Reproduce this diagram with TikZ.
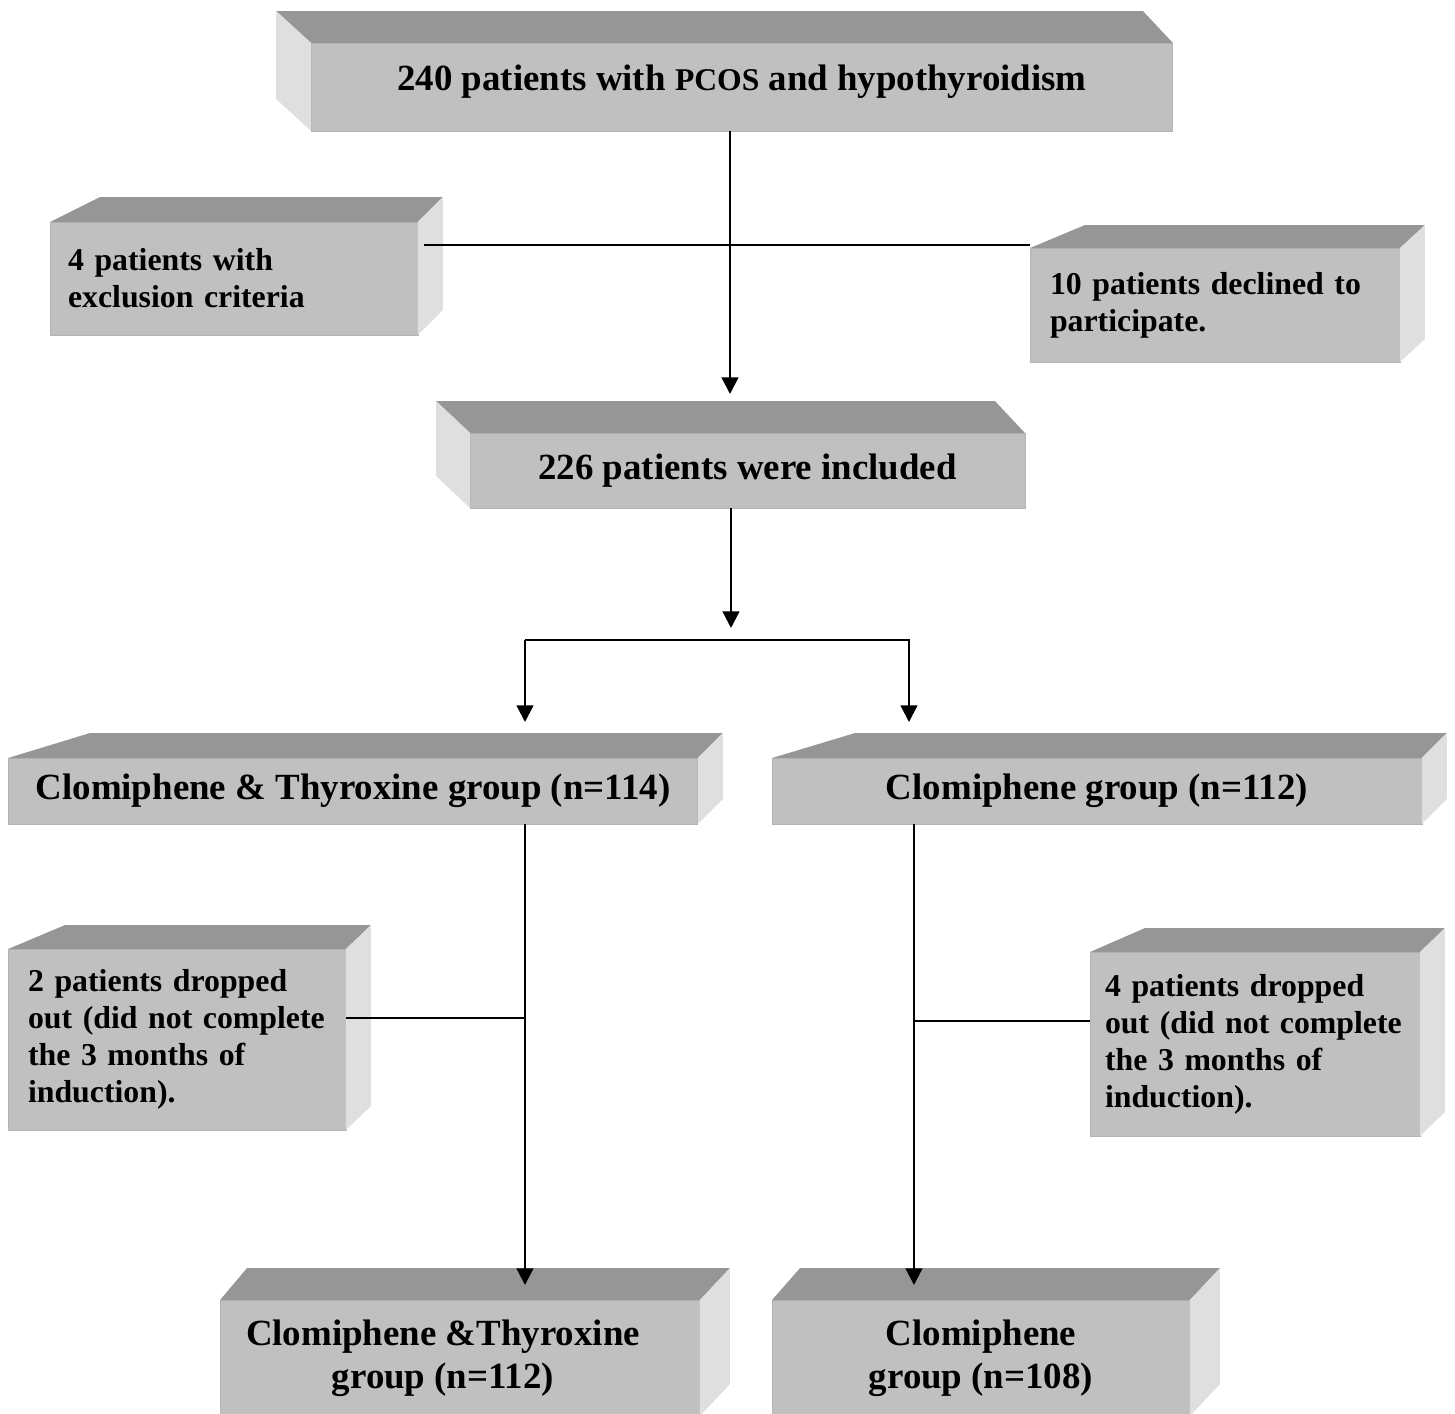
\documentclass[tikz,border=0pt]{standalone}
\usepackage{fontspec}
\setmainfont{Liberation Serif}
\usetikzlibrary{arrows.meta, calc}

\definecolor{boxtop}{HTML}{969696}
\definecolor{boxfront}{HTML}{C0C0C0}
\definecolor{boxside}{HTML}{DFDFDF}
\definecolor{boxedge}{HTML}{B4B4B4}

\tikzset{
  front/.style={rectangle, fill=boxfront, draw=boxedge, line width=0.5pt, inner sep=0pt, outer sep=0pt},
  bigtext/.style={font=\bfseries\fontsize{21}{24.4}\selectfont, align=center},
  notetext/.style={font=\bfseries\fontsize{18.1}{21}\selectfont, align=left},
  topface/.style={fill=boxtop},
  sideface/.style={fill=boxside},
  link/.style={line width=0.85pt},
  arr/.style={line width=1.3pt, -{Triangle[width=9.5pt, length=9.5pt]}},
}

\begin{document}
\begin{tikzpicture}[x=0.02cm, y=-0.02cm]
  \useasboundingbox (0,0) rectangle (1455,1414);
  \clip (0,0) rectangle (1455,1414);
  % front faces
  \node[front, bigtext, text depth=0.38cm, minimum width=17.24cm, minimum height=1.76cm] (pcos) at (742,87)
    {240 patients with {\fontsize{18}{20}\selectfont PCOS} and hypothyroidism};
  \node[front, notetext, text width=6.64cm, minimum width=7.36cm, minimum height=2.26cm] (excl) at (234,278.5)
    {4 patients with\\exclusion criteria};
  \node[front, notetext, text width=6.6cm, minimum width=7.4cm, minimum height=2.28cm] (decl) at (1215,305)
    {10 patients declined to\\participate.};
  \node[front, bigtext, minimum width=11.1cm, minimum height=1.5cm] (incl) at (747.5,470.5)
    {226 patients were included};
  \node[front, bigtext, minimum width=13.8cm, minimum height=1.32cm] (ct) at (353,791)
    {Clomiphene \& Thyroxine group (n=114)};
  \node[front, bigtext, minimum width=13cm, minimum height=1.32cm] (cl) at (1097,791)
    {Clomiphene group (n=112)};
  \node[front, notetext, text width=5.96cm, minimum width=6.76cm, minimum height=3.62cm] (dropct) at (177,1039.5)
    {2 patients dropped\\out (did not complete\\the 3 months of\\induction).};
  \node[front, notetext, text width=6cm, minimum width=6.6cm, minimum height=3.68cm] (dropcl) at (1255,1044)
    {4 patients dropped\\out (did not complete\\the 3 months of\\induction).};
  \node[front, minimum width=9.6cm, minimum height=2.32cm,
    label={[bigtext, xshift=-0.34cm]center:{Clomiphene \&Thyroxine\\group (n=112)}}] (ctend) at (460,1358) {};
  \node[front, bigtext, minimum width=8.36cm, minimum height=2.32cm] (clend) at (981,1358)
    {Clomiphene\\group (n=108)};

  % top and side faces, depth to the left
  \foreach \n/\dl/\dr/\h in {pcos/35/30/32, incl/34/30/32} {
    \fill[topface] (\n.north west) -- ++(-\dl,-\h) -- ($(\n.north east)+(-\dr,-\h)$) -- (\n.north east) -- cycle;
    \fill[sideface] (\n.north west) -- ++(-\dl,-\h) -- ($(\n.south west)+(-\dl,-\h)$) -- (\n.south west) -- cycle;
  }
  % top and side faces, depth to the right
  \foreach \n/\dl/\dr/\h in {excl/50/25/25, decl/55/25/23, ct/82/25/25, cl/83/25/25,
      dropct/57/25/24, dropcl/55/25/24, ctend/27/30/32, clend/28/30/32} {
    \fill[topface] (\n.north west) -- (\n.north east) -- ++(\dr,-\h) -- ($(\n.north west)+(\dl,-\h)$) -- cycle;
    \fill[sideface] (\n.north east) -- ++(\dr,-\h) -- ($(\n.south east)+(\dr,-\h)$) -- (\n.south east) -- cycle;
  }

  % connectors
  \coordinate (inclin) at (730,394);
  \coordinate (split) at (731,628);
  \coordinate (bar) at (731,640);
  \coordinate (ctin) at (525,722);
  \coordinate (clin) at (909,722);
  \coordinate (ctendin) at (525,1285);
  \coordinate (clendin) at (914,1285);
  \coordinate (exclcut) at (730,245);
  \coordinate (dropctcut) at (525,1018);
  \coordinate (dropclcut) at (915,1021);

  \draw[arr] (pcos.south -| inclin) -- (inclin);
  \draw[link] ([xshift=0.12cm]exclcut -| excl.east) -- (exclcut -| decl.west);
  \draw[arr] (incl.south -| split) -- (split);
  \draw[arr] (bar -| ctin) -- (ctin);
  \draw[arr] (bar -| ctin) -- (bar -| clin) -- (clin);
  \draw[arr] (ct.south -| ctendin) -- (ctendin);
  \draw[arr] (cl.south -| clendin) -- (clendin);
  \draw[link] (dropctcut -| dropct.east) -- (dropctcut);
  \draw[link] (dropclcut) -- (dropclcut -| dropcl.west);
\end{tikzpicture}
\end{document}
